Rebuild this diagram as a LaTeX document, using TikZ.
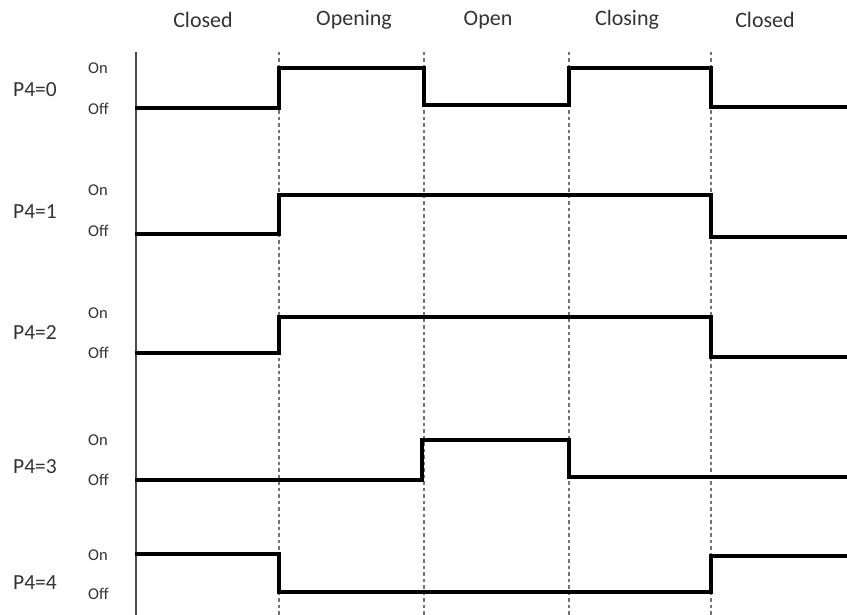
\documentclass[tikz,border=0pt]{standalone}
\usepackage{fontspec}
\setmainfont{Carlito}
\begin{document}
\begin{tikzpicture}[x=1pt,y=-1pt,
  hdr/.style={font=\fontsize{22}{26}\selectfont, text=black!80, inner sep=0pt},
  plab/.style={font=\fontsize{21.5}{25}\selectfont, text=black!80, inner sep=0pt},
  lvl/.style={font=\fontsize{16.5}{19}\selectfont, text=black!80, inner sep=0pt, anchor=west},
  sig/.style={line width=3.2pt, line join=miter, line cap=rect},
  axisline/.style={line width=1.1pt, black!70},
  tline/.style={line width=1.1pt, black!55, dash pattern=on 3.5pt off 3pt}]
\useasboundingbox (0,0) rectangle (847,615);
% headers
\node[hdr] (h1) at (203,20) {Closed};
\node[hdr] (h2) at (354,20) {Opening};
\node[hdr] (h3) at (488,20) {Open};
\node[hdr] (h4) at (627,20) {Closing};
\node[hdr] (h5) at (765,20) {Closed};
% axis and transitions
\coordinate (a0) at (136,52); \coordinate (a1) at (136,615);
\draw[axisline] (a0) -- (a1);
\foreach \x [count=\i] in {279,424,569,711}{
  \coordinate (t\i a) at (\x,52); \coordinate (t\i b) at (\x,615);
  \draw[tline] (t\i a) -- (t\i b);
}
% row labels
\node[plab] (p0) at (35,90) {P4=0};
\node[plab] (p1) at (35,212) {P4=1};
\node[plab] (p2) at (35,333) {P4=2};
\node[plab] (p3) at (35,467) {P4=3};
\node[plab] (p4) at (35,583) {P4=4};
\node[lvl] (on0) at (88,68) {On};  \node[lvl] (off0) at (88,109) {Off};
\node[lvl] (on1) at (88,190) {On}; \node[lvl] (off1) at (88,231) {Off};
\node[lvl] (on2) at (88,313) {On}; \node[lvl] (off2) at (88,353) {Off};
\node[lvl] (on3) at (88,440) {On}; \node[lvl] (off3) at (88,480) {Off};
\node[lvl] (on4) at (88,555) {On}; \node[lvl] (off4) at (88,594) {Off};
% signals
\draw[sig] (137,108) -- (279,108) -- (279,68) -- (424,68) -- (424,105) -- (569,105) -- (569,68) -- (711,68) -- (711,107) -- (847,107);
\draw[sig] (137,234) -- (279,234) -- (279,195) -- (711,195) -- (711,237) -- (847,237);
\draw[sig] (137,353) -- (279,353) -- (279,317) -- (711,317) -- (711,357) -- (847,357);
\draw[sig] (137,480) -- (422,480) -- (422,440) -- (569,440) -- (569,477) -- (847,477);
\draw[sig] (137,554) -- (279,554) -- (279,592) -- (711,592) -- (711,556) -- (847,556);
\end{tikzpicture}
\end{document}
